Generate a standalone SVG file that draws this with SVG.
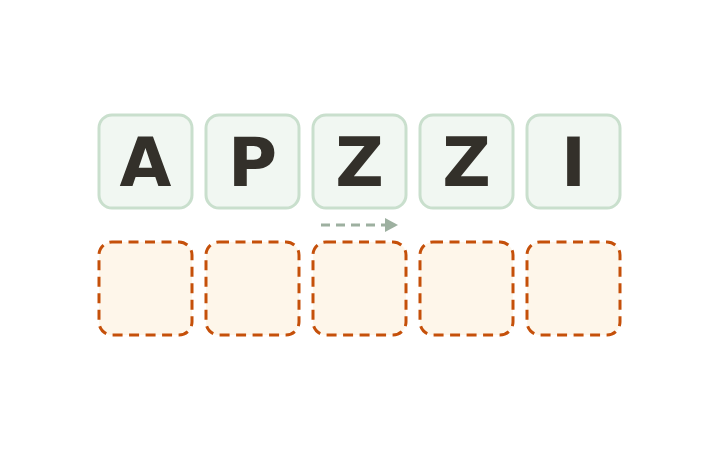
<svg xmlns="http://www.w3.org/2000/svg" width="720" height="450" viewBox="0 0 720 450">
<style>
.tile{fill:#f1f7f2;stroke:#c9dfcd;stroke-width:3}
.slot{fill:#fef6ea;stroke:#c5500a;stroke-width:3;stroke-dasharray:10 6.5}
.ltr{font-family:"DejaVu Sans",sans-serif;font-weight:bold;font-size:67px;fill:#33302a;text-anchor:middle}
.conn{stroke:#9db0a0;stroke-width:3;stroke-dasharray:9 6;fill:none}
</style>
<defs>
<marker id="ah" markerWidth="14" markerHeight="14" refX="0" refY="7" orient="auto" markerUnits="userSpaceOnUse">
<path d="M0,0 L13,7 L0,14 Z" fill="#9db0a0"/>
</marker>
</defs>
<rect width="720" height="450" fill="#ffffff"/>
<g id="tile-0"><rect class="tile" x="99" y="115" width="93" height="93" rx="13"/><text class="ltr" x="145.5" y="186">A</text></g>
<g id="tile-1"><rect class="tile" x="206" y="115" width="93" height="93" rx="13"/><text class="ltr" x="252.5" y="186">P</text></g>
<g id="tile-2"><rect class="tile" x="313" y="115" width="93" height="93" rx="13"/><text class="ltr" x="359.5" y="186">Z</text></g>
<g id="tile-3"><rect class="tile" x="420" y="115" width="93" height="93" rx="13"/><text class="ltr" x="466.5" y="186">Z</text></g>
<g id="tile-4"><rect class="tile" x="527" y="115" width="93" height="93" rx="13"/><text class="ltr" x="573.5" y="186">I</text></g>
<g id="slot-0"><rect class="slot" x="99" y="242" width="93" height="93" rx="13"/></g>
<g id="slot-1"><rect class="slot" x="206" y="242" width="93" height="93" rx="13"/></g>
<g id="slot-2"><rect class="slot" x="313" y="242" width="93" height="93" rx="13"/></g>
<g id="slot-3"><rect class="slot" x="420" y="242" width="93" height="93" rx="13"/></g>
<g id="slot-4"><rect class="slot" x="527" y="242" width="93" height="93" rx="13"/></g>
<g id="connectors">
<line class="conn" x1="321" y1="225" x2="385" y2="225" marker-end="url(#ah)"/>
</g>
</svg>
